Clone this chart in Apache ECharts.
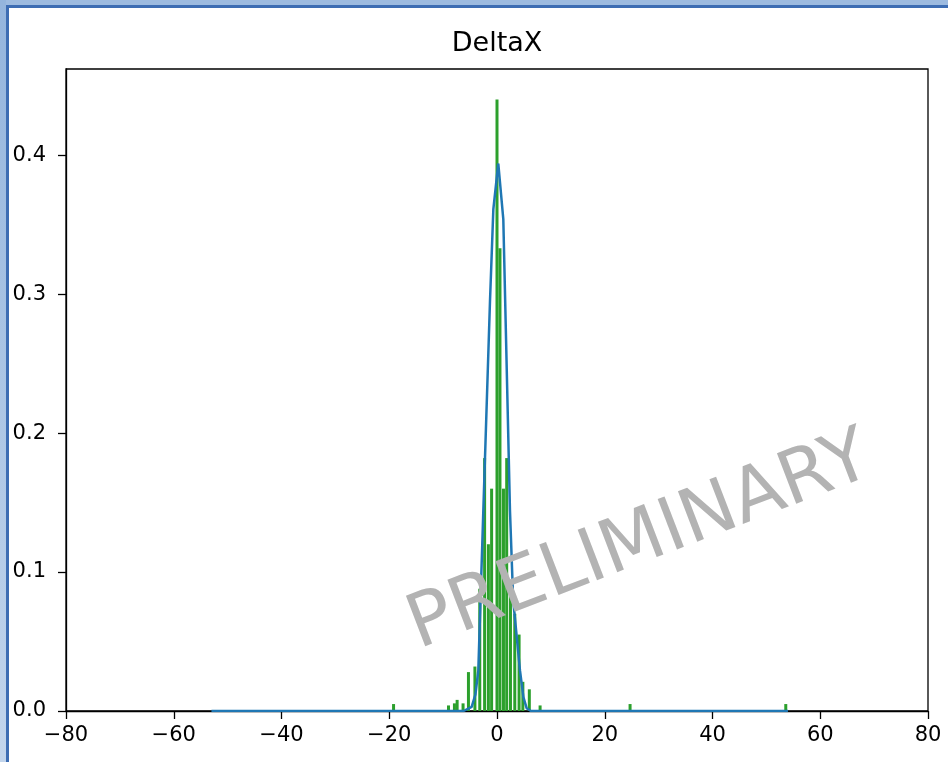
<!DOCTYPE html>
<html>
<head>
<meta charset="utf-8">
<script src="https://cdn.jsdelivr.net/npm/echarts@6/dist/echarts.min.js"></script>
<style>
html,body{margin:0;padding:0;background:#fff;}
#chart{width:948px;height:762px;}
</style>
</head>
<body>
<div id="chart"></div>
<script>
// Histogram bins (bin centre, density)
const barX = [-19.2, -9.0, -7.9, -7.4, -6.3, -5.3, -4.1, -3.2, -2.3, -1.6, -1.0, 0.0, 0.55, 1.2, 1.8, 2.5, 3.3, 4.1, 4.8, 6.0, 8.0, 24.7, 53.6];
const barY = [0.005, 0.004, 0.0055, 0.008, 0.0055, 0.028, 0.032, 0.088, 0.182, 0.12, 0.16, 0.44, 0.333, 0.16, 0.182, 0.09, 0.07, 0.055, 0.021, 0.0156, 0.004, 0.005, 0.005];
// Fitted curve (x, y)
const fitX = [-53, -6.2, -4.7, -4.0, -3.47, -2.54, -1.3, -0.68, 0.24, 1.17, 2.41, 3.0, 4.27, 4.9, 5.5, 6.3, 54];
const fitY = [0, 0, 0.003, 0.012, 0.029, 0.144, 0.295, 0.361, 0.394, 0.354, 0.144, 0.08, 0.029, 0.01, 0.002, 0, 0];
const xTicks = [-80, -60, -40, -20, 0, 20, 40, 60, 80];
const yTicks = [0.0, 0.1, 0.2, 0.3, 0.4];
const titleText = 'DeltaX';
const watermark = 'PRELIMINARY';

const chart = echarts.init(document.getElementById('chart'), null, {renderer: 'canvas'});
const fmtX = v => (v < 0 ? '\u2212' + Math.abs(v) : String(v));
const font = 'DejaVu Sans';
chart.setOption({
  animation: false,
  backgroundColor: '#fff',
  grid: {left: 66, right: 20, top: 69, bottom: 51, show: true, borderColor: '#000', borderWidth: 1.3, backgroundColor: 'transparent'},
  xAxis: {
    type: 'value', min: xTicks[0], max: xTicks[xTicks.length - 1], interval: 20,
    axisLine: {show: true, onZero: false, lineStyle: {color: '#000', width: 1.3}},
    axisTick: {show: true, inside: false, length: 8, lineStyle: {color: '#000', width: 1.3}},
    axisLabel: {fontFamily: font, fontSize: 21, color: '#000', margin: 14, formatter: fmtX},
    splitLine: {show: false}
  },
  yAxis: {
    type: 'value', min: 0, max: 0.462, interval: 0.1,
    axisLine: {show: true, onZero: false, lineStyle: {color: '#000', width: 1.3}},
    axisTick: {show: true, inside: false, length: 8, lineStyle: {color: '#000', width: 1.3}},
    axisLabel: {fontFamily: font, fontSize: 21, color: '#000', margin: 20, showMaxLabel: false,
      formatter: v => (yTicks.some(t => Math.abs(t - v) < 1e-9) ? v.toFixed(1) : '')},
    splitLine: {show: false}
  },
  series: [
    {
      type: 'bar', barWidth: 3, itemStyle: {color: '#2ca02c'},
      data: barX.map((x, i) => [x, barY[i]]), z: 2
    },
    {
      type: 'line', symbol: 'none', smooth: false,
      lineStyle: {color: '#1f77b4', width: 2.5},
      data: fitX.map((x, i) => [x, fitY[i]]), z: 3
    }
  ],
  graphic: [
    {type: 'rect', shape: {x: 0, y: 0, width: 948, height: 5}, style: {fill: '#9dbbe0'}, z: 100},
    {type: 'rect', shape: {x: 0, y: 5, width: 948, height: 3}, style: {fill: '#3d6db3'}, z: 100},
    {type: 'rect', shape: {x: 0, y: 0, width: 6, height: 762},
      style: {fill: new echarts.graphic.LinearGradient(0, 0, 0, 1, [{offset: 0, color: '#94b5dd'}, {offset: 1, color: '#c2d5ec'}])}, z: 100},
    {type: 'rect', shape: {x: 6, y: 5, width: 3, height: 757}, style: {fill: '#3d6db3'}, z: 100},
    {
      type: 'text', x: 497, y: 44, z: 50,
      style: {text: titleText, fontFamily: font, fontSize: 27, fill: '#000', align: 'center', verticalAlign: 'middle'}
    },
    {
      type: 'text', x: 640, y: 543, rotation: 21 * Math.PI / 180, z: 50,
      style: {text: watermark, fontFamily: font, fontSize: 74, fill: '#b3b3b3', align: 'center', verticalAlign: 'middle'}
    }
  ]
});
</script>
</body>
</html>
